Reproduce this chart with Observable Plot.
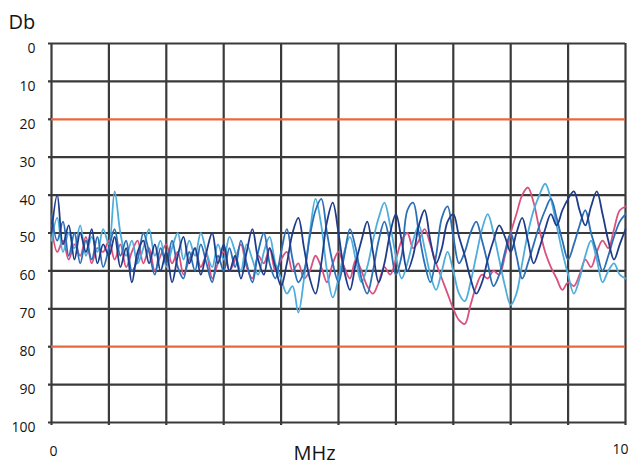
<!DOCTYPE html>
<html>
<head>
<meta charset="utf-8">
<script src="https://cdn.jsdelivr.net/npm/d3@7"></script>
<script src="https://cdn.jsdelivr.net/npm/@observablehq/plot@0.6"></script>
<style>
  html, body { margin: 0; padding: 0; background: #fff; }
  #chart svg { display: block; }
</style>
</head>
<body>
<div id="chart"></div>
<script>
// Frequency (MHz) sample positions
const freq = [
  0.0,0.1,0.2,0.3,0.4,0.5,0.6,0.7,0.8,0.9,
  1.0,1.1,1.2,1.3,1.4,1.5,1.6,1.7,1.8,1.9,
  2.0,2.1,2.2,2.3,2.4,2.5,2.6,2.7,2.8,2.9,
  3.0,3.1,3.2,3.3,3.4,3.5,3.6,3.7,3.8,3.9,
  4.0,4.1,4.2,4.3,4.4,4.5,4.6,4.7,4.8,4.9,
  5.0,5.1,5.2,5.3,5.4,5.5,5.6,5.7,5.8,5.9,
  6.0,6.1,6.2,6.3,6.4,6.5,6.6,6.7,6.8,6.9,
  7.0,7.1,7.2,7.3,7.4,7.5,7.6,7.7,7.8,7.9,
  8.0,8.1,8.2,8.3,8.4,8.5,8.6,8.7,8.8,8.9,
  9.0,9.1,9.2,9.3,9.4,9.5,9.6,9.7,9.8,9.9,
  10.0
];

// Series values (Db)
const pinkSeries = [
  48,55,52,57,53,56,51,58,54,55,
  52,57,53,59,55,52,58,54,60,56,
  53,58,55,61,57,54,59,56,62,58,
  55,60,57,53,59,62,56,58,54,60,
  57,55,60,58,62,60,56,59,63,58,
  55,59,62,57,60,64,66,63,59,61,
  57,52,50,54,52,49,53,58,62,66,
  70,73,74,69,64,61,62,60,61,56,
  50,45,40,38,42,49,55,59,62,65,
  63,64,61,57,59,55,52,54,49,44,
  43
];
const navySeries = [
  50,40,53,48,57,50,55,49,58,53,
  56,51,59,54,63,55,52,58,53,60,
  55,63,56,51,58,54,61,55,50,58,
  53,60,56,62,55,49,57,61,54,59,
  64,58,50,46,54,62,66,58,47,42,
  50,60,65,58,52,47,55,63,58,50,
  45,52,60,56,48,44,52,58,54,47,
  45,51,56,62,66,63,57,52,48,51,
  55,50,46,52,58,54,49,45,48,44,
  41,39,44,48,43,39,45,52,57,53,
  49
];
const blueSeries = [
  45,52,47,56,50,58,52,57,51,59,
  54,49,56,52,60,57,50,55,61,54,
  58,52,59,62,55,60,53,58,63,56,
  60,54,59,52,58,63,55,50,58,62,
  55,49,57,63,60,51,44,41,50,58,
  63,56,49,54,62,66,60,52,47,53,
  61,56,44,42,50,58,63,56,46,43,
  51,58,55,50,47,52,58,64,61,55,
  50,56,62,58,53,48,44,41,46,52,
  57,53,48,44,50,55,60,56,51,47,
  45
];
const lightSeries = [
  52,46,55,50,54,48,56,51,55,49,
  53,39,50,56,52,58,54,49,56,52,
  59,54,50,57,52,56,50,55,59,53,
  57,51,55,60,53,57,61,55,51,58,
  62,66,64,71,62,50,41,48,60,67,
  62,55,51,57,63,59,52,46,42,48,
  56,62,58,52,48,54,61,65,60,55,
  60,66,68,63,56,49,45,50,57,64,
  69,66,58,50,44,40,37,41,48,55,
  61,66,62,56,52,57,63,60,58,61,
  62
];

// Axis tick values / labels
const yTicks = [0,10,20,30,40,50,60,70,80,90,100];
const yGridTicks = [0,10,30,40,50,60,70,90,100];
const xTicks = [0,1,2,3,4,5,6,7,8,9,10];
const xLabelled = [0,10];
const limitLines = [20,80];

const seriesDefs = [
  {name: "pink",  values: pinkSeries,  color: "#d9517f"},
  {name: "light", values: lightSeries, color: "#4eaddb"},
  {name: "blue",  values: blueSeries,  color: "#2b6fb6"},
  {name: "navy",  values: navySeries,  color: "#1f3c8a"}
];

const font = "'Open Sans', 'DejaVu Sans', sans-serif";
const gridColor = "#3a3a3a";
const textColor = "#141414";

const lineMarks = seriesDefs.map(s =>
  Plot.line(s.values.map((v, i) => ({x: freq[i], y: v})), {
    x: "x", y: "y", stroke: s.color, strokeWidth: 1.8,
    curve: "catmull-rom", strokeLinejoin: "round"
  })
);

const chart = Plot.plot({
  width: 630,
  height: 466,
  marginTop: 43,
  marginBottom: 44,
  marginLeft: 51,
  marginRight: 5,
  style: {fontFamily: font, background: "#fff", color: textColor},
  x: {type: "linear", domain: [0, 10], axis: null},
  y: {type: "linear", domain: [0, 100], reverse: true, axis: null},
  marks: [
    Plot.ruleX(xTicks, {x: d => d, y1: 0, y2: 100, stroke: gridColor, strokeWidth: 2.2, insetBottom: -3}),
    Plot.ruleY(yGridTicks, {y: d => d, x1: 0, x2: 10, stroke: gridColor, strokeWidth: 2.2, insetLeft: -3}),
    Plot.ruleY(limitLines, {y: d => d, x1: 0, x2: 10, stroke: "#e8683e", strokeWidth: 2.2}),
    Plot.ruleY(limitLines, {y: d => d, x1: 0, x2: 0, stroke: gridColor, strokeWidth: 2.2, insetLeft: -3}),
    ...lineMarks,
    // y tick labels
    Plot.text(yTicks, {y: d => d, frameAnchor: "left", dx: -16, dy: 5, textAnchor: "end",
      fontSize: 14, fill: textColor}),
    // x tick labels (only the two ends)
    Plot.text([xLabelled[0]], {x: d => d, frameAnchor: "bottom", dy: 33, dx: 2,
      textAnchor: "middle", fontSize: 14, fill: textColor, text: d => String(d)}),
    Plot.text([xLabelled[1]], {x: d => d, frameAnchor: "bottom", dy: 31, dx: 3,
      textAnchor: "end", fontSize: 14, fill: textColor, text: d => String(d)}),
    Plot.text(["Db"], {frameAnchor: "top-left", dx: -43, dy: -15, lineAnchor: "bottom",
      textAnchor: "start", fontSize: 20, fill: textColor}),
    Plot.text(["MHz"], {frameAnchor: "bottom", dx: -24, dy: 37, lineAnchor: "bottom",
      fontSize: 20, fill: textColor})
  ]
});

document.getElementById("chart").appendChild(chart);
</script>
</body>
</html>
